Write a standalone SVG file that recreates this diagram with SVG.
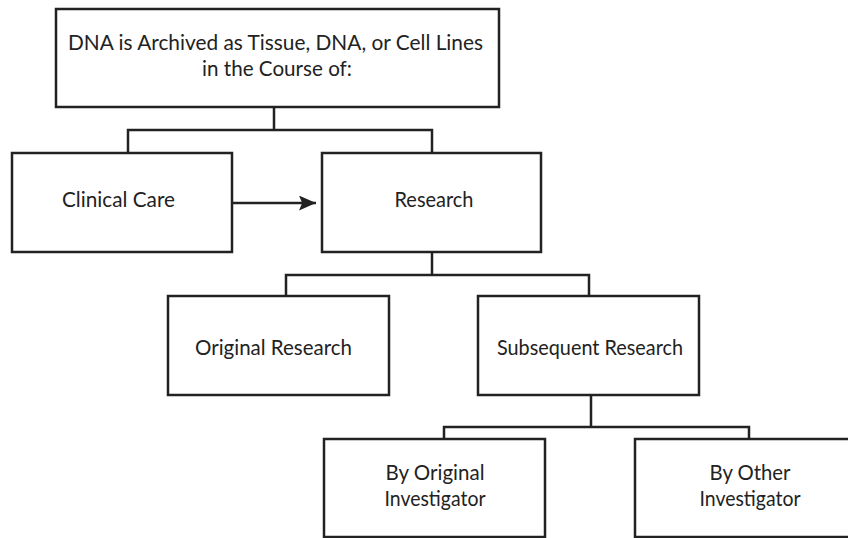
<svg xmlns="http://www.w3.org/2000/svg" width="848" height="538" viewBox="0 0 848 538">
<style>
.box{fill:#fff;stroke:#222;stroke-width:2.5}
.ln{fill:none;stroke:#222;stroke-width:2.5}
text{font-family:Lato,"Open Sans","Liberation Sans",sans-serif;font-size:20.5px;fill:#222;text-anchor:middle}
</style>
<defs>
<marker id="ah" viewBox="0 0 16 14" refX="16" refY="7" markerWidth="17" markerHeight="15" markerUnits="userSpaceOnUse" orient="auto">
<path d="M0,0 L16,7 L0,14 L3,7 z" fill="#222"/>
</marker>
</defs>
<rect width="848" height="538" fill="#fff"/>
<g id="connectors">
<path class="ln" d="M274,107 V130 M128,153 V130 H432 V153"/>
<path class="ln" d="M432,252 V275 M286,296 V275 H589 V296"/>
<path class="ln" d="M591,395 V427 M444,439 V427 H749 V439"/>
<line class="ln" x1="232" y1="203" x2="316" y2="203" marker-end="url(#ah)"/>
</g>
<g id="n-top"><rect class="box" x="56" y="9" width="443" height="98"/>
<text x="275.5" y="50" textLength="415" lengthAdjust="spacingAndGlyphs">DNA is Archived as Tissue, DNA, or Cell Lines</text>
<text x="277" y="76" textLength="150" lengthAdjust="spacingAndGlyphs">in the Course of:</text></g>
<g id="n-clinical"><rect class="box" x="12" y="153" width="220" height="99"/>
<text x="118.5" y="207" textLength="113" lengthAdjust="spacingAndGlyphs">Clinical Care</text></g>
<g id="n-research"><rect class="box" x="322" y="153" width="219" height="99"/>
<text x="434" y="207" textLength="79" lengthAdjust="spacingAndGlyphs">Research</text></g>
<g id="n-original"><rect class="box" x="168" y="296" width="221" height="99"/>
<text x="273.5" y="355" textLength="157" lengthAdjust="spacingAndGlyphs">Original Research</text></g>
<g id="n-subsequent"><rect class="box" x="478" y="296" width="221" height="99"/>
<text x="590" y="355" textLength="186" lengthAdjust="spacingAndGlyphs">Subsequent Research</text></g>
<g id="n-byoriginal"><rect class="box" x="324" y="439" width="221" height="98"/>
<text x="435" y="480" textLength="99" lengthAdjust="spacingAndGlyphs">By Original</text>
<text x="435" y="506" textLength="101" lengthAdjust="spacingAndGlyphs">Investigator</text></g>
<g id="n-byother"><rect class="box" x="635" y="439" width="221" height="98"/>
<text x="750" y="480" textLength="81" lengthAdjust="spacingAndGlyphs">By Other</text>
<text x="750" y="506" textLength="101" lengthAdjust="spacingAndGlyphs">Investigator</text></g>
</svg>
